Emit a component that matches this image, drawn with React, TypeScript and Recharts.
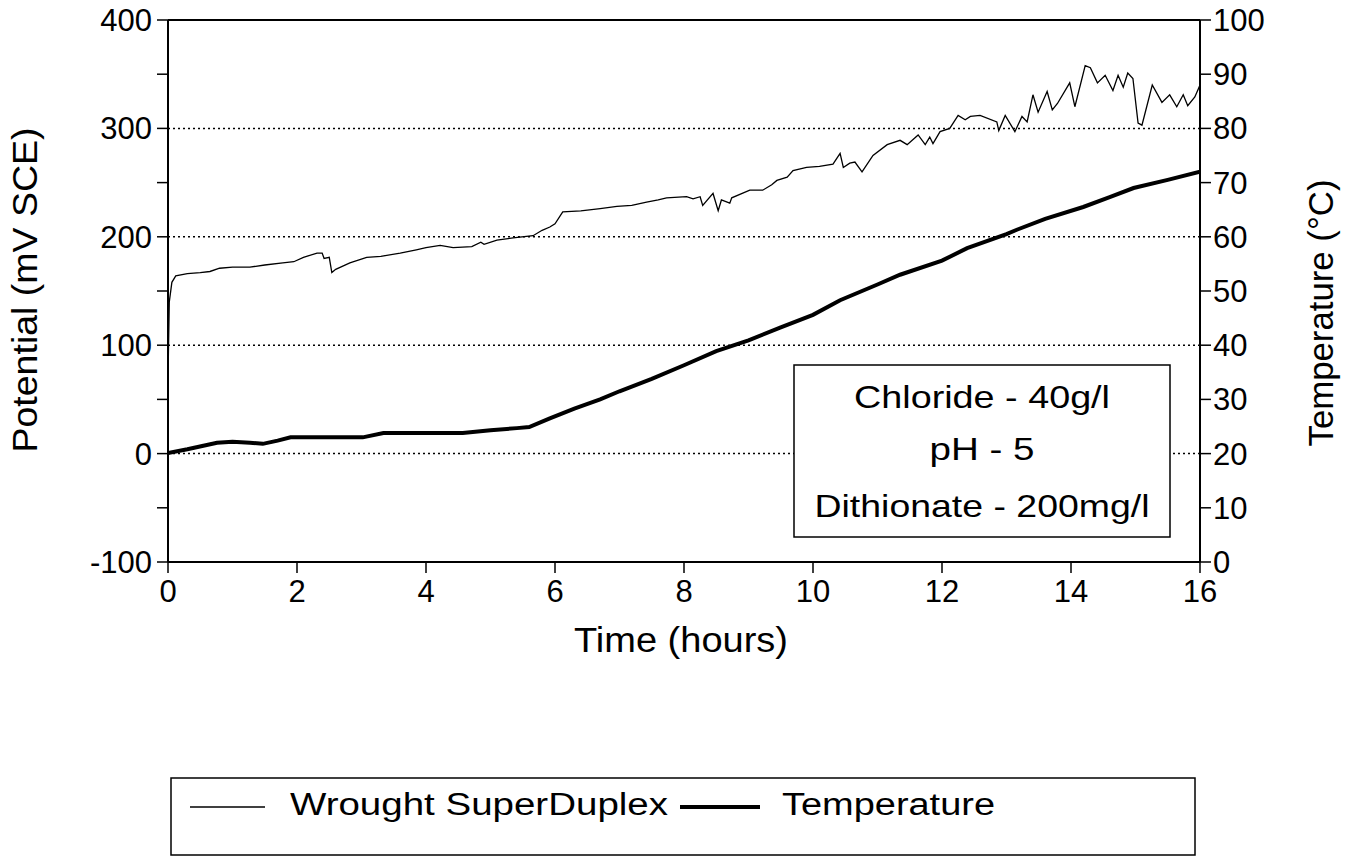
import React from 'react';
import { LineChart, Line, XAxis, YAxis, ReferenceLine, Legend } from 'recharts';

const FONT = '"Liberation Sans", Arial, Helvetica, sans-serif';

const potentialHours = [
  0, 0.02, 0.06, 0.12, 0.3, 0.5, 0.65, 0.8, 1.0, 1.27, 1.5, 1.78, 1.95, 2.1, 2.31, 2.39, 2.42, 2.5, 2.54, 2.6,
  2.82, 3.08, 3.3, 3.6, 3.85, 4.0, 4.22, 4.42, 4.71, 4.85, 4.9, 5.1, 5.35, 5.66, 5.8, 5.92, 6.0, 6.12, 6.4, 6.7,
  6.96, 7.19, 7.42, 7.6, 7.73, 8.04, 8.14, 8.25, 8.29, 8.45, 8.53, 8.58, 8.71, 8.74, 9.02, 9.22, 9.36, 9.44, 9.6, 9.69,
  9.9, 10.1, 10.31, 10.42, 10.47, 10.57, 10.65, 10.76, 10.93, 11.15, 11.35, 11.46, 11.63, 11.74, 11.81, 11.86, 11.97, 12.12, 12.25, 12.36,
  12.44, 12.59, 12.85, 12.88, 12.98, 13.13, 13.24, 13.32, 13.41, 13.49, 13.63, 13.71, 13.79, 13.98, 14.06, 14.22, 14.3, 14.41, 14.53, 14.65,
  14.73, 14.81, 14.88, 14.96, 15.04, 15.1, 15.26, 15.41, 15.53, 15.64, 15.74, 15.81, 15.92, 16.0,
];
const potentialMv = [
  70, 140, 158, 164, 166, 167, 168, 171, 172, 172, 174, 176, 177, 181, 185, 185, 180, 181, 167, 170,
  176, 181, 182, 185, 188, 190, 192, 190, 191, 195, 193, 197, 199, 201, 206, 209, 212, 223, 224, 226,
  228, 229, 232, 234, 236, 237, 235, 237, 229, 240, 224, 234, 231, 236, 243, 243, 248, 252, 255, 261,
  264, 265, 267, 277, 264, 268, 269, 260, 275, 285, 289, 285, 294, 285, 292, 286, 297, 300, 312, 308,
  311, 312, 306, 298, 312, 297, 311, 306, 331, 315, 334, 317, 323, 342, 320, 358, 356, 342, 349, 335,
  349, 338, 351, 346, 305, 303, 340, 324, 331, 320, 331, 321, 329, 340,
];

const temperatureHours = [
  0, 0.3, 0.76, 1.0, 1.27, 1.47, 1.7, 1.9, 3.02, 3.34, 4.57, 5.0, 5.41, 5.6, 5.92, 6.3, 6.7, 7.0, 7.5, 8.0,
  8.5, 9.0, 9.5, 10.0, 10.42, 11.0, 11.35, 12.0, 12.39, 13.0, 13.16, 13.6, 14.19, 14.6, 14.97, 15.5, 16.0,
];
const temperatureC = [
  20.1, 20.8, 22, 22.2, 22, 21.8, 22.4, 23, 23, 23.8, 23.8, 24.3, 24.7, 24.9, 26.5, 28.3, 30, 31.5, 33.8, 36.3,
  38.9, 40.9, 43.3, 45.6, 48.3, 51.2, 53, 55.6, 57.9, 60.5, 61.3, 63.3, 65.5, 67.3, 69, 70.5, 72,
];

const timeTicks = [0, 2, 4, 6, 8, 10, 12, 14, 16];
const potentialTicks = [-100, -50, 0, 50, 100, 150, 200, 250, 300, 350, 400];
const temperatureTicks = [0, 10, 20, 30, 40, 50, 60, 70, 80, 90, 100];
const gridValues = [0, 100, 200, 300];
const seriesNames = ['Wrought SuperDuplex', 'Temperature'];
const noteLines = ['Chloride - 40g/l', 'pH - 5', 'Dithionate - 200mg/l'];

const potentialData = potentialHours.map((t, i) => ({ t, mv: potentialMv[i] }));
const temperatureData = temperatureHours.map((t, i) => ({ t, temp: temperatureC[i] }));

const tickStyle = { fill: '#000', fontSize: 31, fontFamily: FONT };

const LegendBox = () => (
  <svg width={1026} height={80} style={{ display: 'block' }}>
    <rect x={1} y={1} width={1024} height={77} fill="#fff" stroke="#000" strokeWidth={1.5} />
    <line x1={20} x2={95} y1={30} y2={30} stroke="#000" strokeWidth={1.3} />
    <text x={120} y={38} fontSize={31} fontFamily={FONT} fill="#000" textLength={378} lengthAdjust="spacingAndGlyphs">
      {seriesNames[0]}
    </text>
    <line x1={510} x2={590} y1={30} y2={30} stroke="#000" strokeWidth={4} />
    <text x={612} y={38} fontSize={31} fontFamily={FONT} fill="#000" textLength={213} lengthAdjust="spacingAndGlyphs">
      {seriesNames[1]}
    </text>
  </svg>
);

const noteLengths = [256, 105, 335];
const noteBaselines = [44, 96, 153];

export default function App() {
  return (
    <div style={{ position: 'relative', width: 1343, height: 850 }}>
      <LineChart width={1343} height={850} margin={{ top: 12, right: 0, bottom: 216, left: 0 }}>
        <XAxis
          dataKey="t"
          type="number"
          domain={[0, 16]}
          ticks={timeTicks}
          interval={0}
          tick={tickStyle}
          tickSize={11}
          tickMargin={7}
          height={80}
          axisLine={{ stroke: '#000', strokeWidth: 2 }}
          tickLine={{ stroke: '#000', strokeWidth: 1.5 }}
          allowDataOverflow
          label={(props: any) => {
            const vb = props.viewBox || {};
            return (
              <text x={(vb.x ?? 160) + (vb.width ?? 1032) / 2 - 3} y={(vb.y ?? 554) + 90} textAnchor="middle" fontSize={35}
                fontFamily={FONT} fill="#000" textLength={214} lengthAdjust="spacingAndGlyphs">Time (hours)</text>
            );
          }}
        />
        <YAxis
          yAxisId="left"
          orientation="left"
          type="number"
          domain={[-100, 400]}
          ticks={potentialTicks}
          interval={0}
          width={160}
          tick={tickStyle}
          tickFormatter={(v: number) => (v % 100 === 0 ? String(v) : '')}
          tickSize={11}
          tickMargin={5}
          axisLine={{ stroke: '#000', strokeWidth: 2 }}
          tickLine={{ stroke: '#000', strokeWidth: 1.5 }}
          allowDataOverflow
          label={(props: any) => {
            const vb = props.viewBox || {};
            const cx = 29;
            const cy = (vb.y ?? 12) + (vb.height ?? 542) / 2 - 1;
            return (
              <text x={cx} y={cy} transform={`rotate(-90, ${cx}, ${cy})`} textAnchor="middle" fontSize={35}
                fontFamily={FONT} fill="#000" textLength={325} lengthAdjust="spacingAndGlyphs">Potential (mV SCE)</text>
            );
          }}
        />
        <YAxis
          yAxisId="right"
          orientation="right"
          type="number"
          domain={[0, 100]}
          ticks={temperatureTicks}
          interval={0}
          width={151}
          tick={tickStyle}
          tickSize={11}
          tickMargin={2}
          axisLine={{ stroke: '#000', strokeWidth: 2 }}
          tickLine={{ stroke: '#000', strokeWidth: 1.5 }}
          allowDataOverflow
          label={(props: any) => {
            const vb = props.viewBox || {};
            const cx = (vb.x ?? 1192) + 133;
            const cy = (vb.y ?? 12) + (vb.height ?? 542) / 2 + 22;
            return (
              <text x={cx} y={cy} transform={`rotate(-90, ${cx}, ${cy})`} textAnchor="middle" fontSize={35}
                fontFamily={FONT} fill="#000" textLength={267} lengthAdjust="spacingAndGlyphs">Temperature (°C)</text>
            );
          }}
        />
        {gridValues.map((g) => (
          <ReferenceLine key={g} yAxisId="left" y={g} stroke="#000" strokeWidth={1.5} strokeDasharray="2 3" />
        ))}
        <ReferenceLine yAxisId="left" y={400} stroke="#000" strokeWidth={2} />
        <Line
          yAxisId="left"
          data={potentialData}
          dataKey="mv"
          name={seriesNames[0]}
          type="linear"
          stroke="#000"
          strokeWidth={1.3}
          dot={false}
          isAnimationActive={false}
        />
        <Line
          yAxisId="right"
          data={temperatureData}
          dataKey="temp"
          name={seriesNames[1]}
          type="linear"
          stroke="#000"
          strokeWidth={4}
          dot={false}
          isAnimationActive={false}
        />
        <Legend
          layout="horizontal"
          verticalAlign="middle"
          align="center"
          wrapperStyle={{ left: 162, top: 769, width: 1026, height: 80, position: 'absolute' }}
          content={() => <LegendBox />}
        />
      </LineChart>
      <div style={{ position: 'absolute', left: 785, top: 356, width: 378, height: 174 }}>
        <svg width={378} height={174} style={{ display: 'block' }}>
          <rect x={1} y={1} width={376} height={172} fill="#fff" stroke="#000" strokeWidth={1.5} />
          {noteLines.map((s, i) => (
            <text key={s} x={189} y={noteBaselines[i]} textAnchor="middle" fontSize={32} fontFamily={FONT} fill="#000"
              textLength={noteLengths[i]} lengthAdjust="spacingAndGlyphs">{s}</text>
          ))}
        </svg>
      </div>
    </div>
  );
}
